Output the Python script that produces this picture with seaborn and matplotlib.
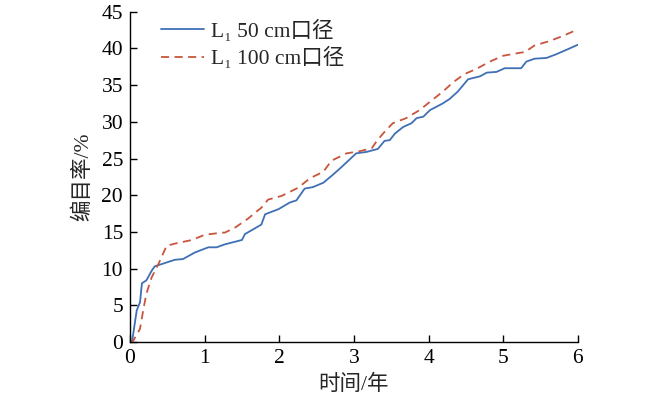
import numpy as np
import pandas as pd
import matplotlib
matplotlib.use("Agg")
import matplotlib.pyplot as plt
import seaborn as sns

# 50 cm aperture (solid blue)
t_50 = [0.0, 0.03, 0.09, 0.134, 0.16, 0.22, 0.29, 0.33, 0.51, 0.6, 0.71, 0.87,
        1.05, 1.16, 1.27, 1.5, 1.54, 1.76, 1.81, 1.99, 2.14, 2.23, 2.34, 2.45,
        2.59, 2.72, 2.83, 3.03, 3.17, 3.32, 3.41, 3.48, 3.55, 3.66, 3.77, 3.84,
        3.93, 4.02, 4.19, 4.28, 4.39, 4.53, 4.69, 4.78, 4.91, 5.02, 5.24, 5.31,
        5.42, 5.58, 5.71, 5.89, 6.0]
r_50 = [0.0, 0.2, 4.3, 5.4, 8.0, 8.4, 9.7, 10.3, 10.9, 11.2, 11.3, 12.2,
        12.9, 12.9, 13.3, 13.9, 14.7, 16.0, 17.4, 18.1, 19.0, 19.3, 20.9, 21.1,
        21.7, 22.8, 23.8, 25.7, 25.9, 26.3, 27.4, 27.5, 28.4, 29.3, 29.8, 30.5,
        30.7, 31.6, 32.5, 33.1, 34.1, 35.8, 36.2, 36.7, 36.8, 37.3, 37.3, 38.2,
        38.6, 38.7, 39.2, 40.0, 40.5]

# 100 cm aperture (dashed red)
t_100 = [0.0, 0.04, 0.134, 0.18, 0.22, 0.29, 0.38, 0.45, 0.49, 0.6, 0.83, 1.0,
         1.23, 1.27, 1.41, 1.58, 1.76, 1.85, 2.03, 2.25, 2.41, 2.59, 2.7, 2.9,
         3.08, 3.24, 3.3, 3.39, 3.52, 3.7, 3.88, 4.04, 4.19, 4.33, 4.48, 4.64,
         4.82, 5.0, 5.22, 5.29, 5.42, 5.62, 5.8, 6.0]
r_100 = [0.0, 0.1, 1.8, 4.5, 6.6, 8.8, 10.6, 12.2, 13.1, 13.4, 13.9, 14.6,
         14.9, 14.9, 15.6, 16.8, 18.3, 19.4, 19.9, 21.0, 22.3, 23.2, 24.7, 25.7,
         26.0, 26.4, 27.3, 28.4, 29.8, 30.5, 31.6, 32.9, 34.1, 35.4, 36.5, 37.2,
         38.2, 39.0, 39.4, 39.5, 40.4, 41.0, 41.7, 42.6]

labels = ["L\u2081 50 cm口径", "L\u2081 100 cm口径"]
xticks = [0, 1, 2, 3, 4, 5, 6]
yticks = [0, 5, 10, 15, 20, 25, 30, 35, 40, 45]

df = pd.concat([
    pd.DataFrame({"t": t_50, "r": r_50, "s": labels[0]}),
    pd.DataFrame({"t": t_100, "r": r_100, "s": labels[1]}),
])

sns.set_style("ticks")
plt.rcParams["font.family"] = ["Liberation Serif", "Noto Sans CJK SC"]

fs = 15.5
fig = plt.figure(figsize=(6.5, 4.04), dpi=100)
ax = fig.add_axes([0.2, 0.1535, 0.689, 0.8175])

sns.lineplot(data=df, x="t", y="r", hue="s", style="s",
             palette=["#3f6fb5", "#c8553d"],
             dashes=[(None, None), (4.5, 3)], linewidth=1.3,
             sort=False, estimator=None, ax=ax)

ax.set_xlim(0, 6)
ax.set_ylim(0, 45)
ax.set_xticks(xticks)
ax.set_yticks(yticks)
ax.tick_params(direction="in", length=5, width=1, labelsize=fs, colors="black", pad=5)
sns.despine(ax=ax)
for sp in ax.spines.values():
    sp.set_color("black")
    sp.set_linewidth(1)
ax.set_xlabel("时间/年", fontsize=fs, labelpad=5)
ax.set_ylabel("编目率/%", fontsize=fs, labelpad=6)

leg = ax.legend(loc="upper left", frameon=False, fontsize=fs,
                handlelength=2.0, handletextpad=0.35, labelspacing=0.25,
                bbox_to_anchor=(0.025, 1.035))
for line in leg.get_lines():
    line.set_linewidth(1.3)

fig.savefig("out.png", dpi=100)
